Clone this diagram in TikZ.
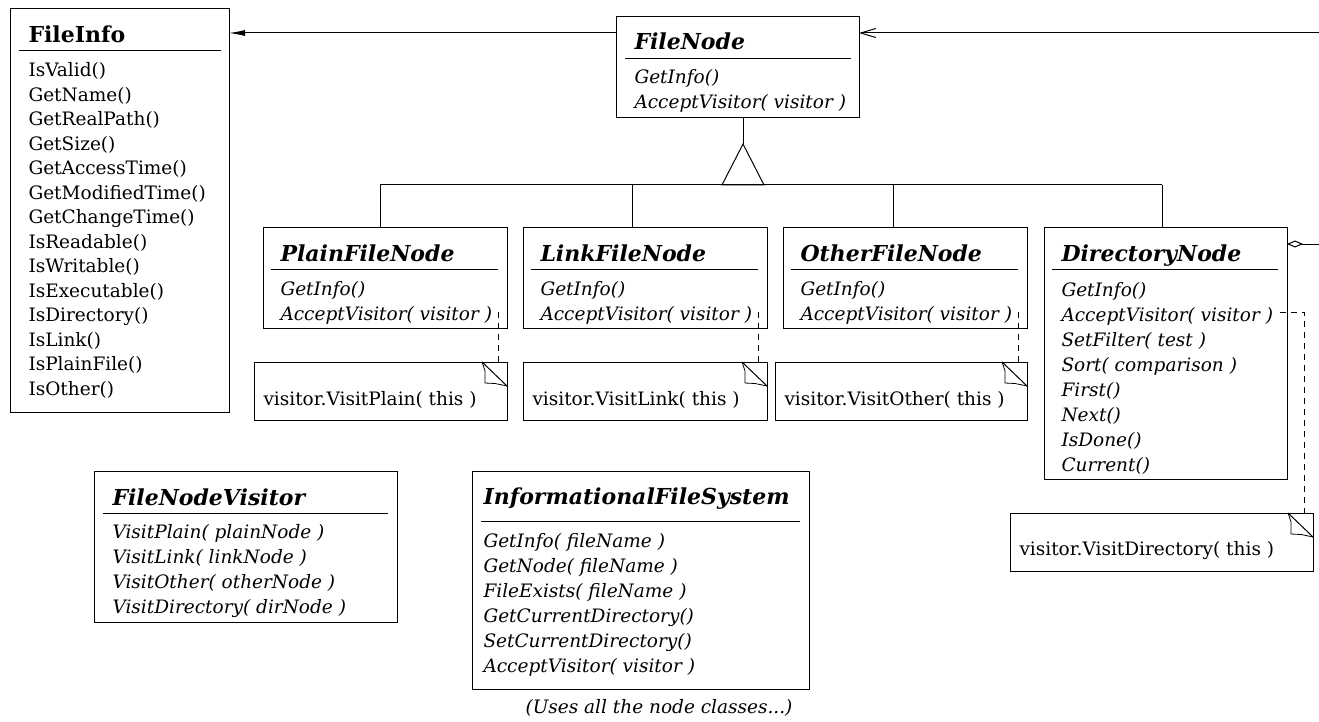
\documentclass[tikz,border=0pt]{standalone}
\usepackage{fontspec}
\setmainfont{DejaVu Serif}
\usepackage{tikz}
\usetikzlibrary{arrows.meta, calc, positioning}
\newcommand{\umlfont}{\fontsize{18.5}{25}\selectfont}
\newcommand{\infofont}{\fontsize{18.5}{24.5}\selectfont}
\newcommand{\headfont}{\fontsize{22}{26}\selectfont}

\begin{document}
\begin{tikzpicture}[
    x=1pt, y=-1pt,
    line width=1pt,
    classbox/.style={draw, anchor=north west, inner sep=0pt, outer sep=0pt},
    ctitle/.style={anchor=base west, inner sep=0pt, font=\headfont\bfseries\itshape},
    cbody/.style={anchor=north west, inner sep=0pt, align=left, font=\umlfont\itshape},
    notebox/.style={draw, anchor=north west, inner sep=0pt, outer sep=0pt,
        minimum height=58pt},
    notetext/.style={anchor=base west, inner sep=0pt, font=\umlfont},
    assoc/.style={-{Latex[length=16pt,width=6pt]}},
    navarrow/.style={-{Straight Barb[length=15pt,width=9pt]}},
    aggr/.style={-{Diamond[open,length=16pt,width=7pt]}},
    dashline/.style={dashed, dash pattern=on 6pt off 5pt}
]
\useasboundingbox (0,0) rectangle (1319,722);

% === FILEINFO ===
\node[classbox, minimum width=219pt, minimum height=403pt] (info) at (10,9) {};
\node[ctitle, font=\headfont\bfseries] (info-title) at ($(info.north west)+(18,34)$) {FileInfo};
\draw ($(info.north west)+(9,42)$) -- ($(info.north east)+(-8,42)$);
\node[cbody, font=\infofont] (info-ops) at ($(info.north west)+(18,50)$) {\strut IsValid()\\
    GetName()\\ GetRealPath()\\ GetSize()\\ GetAccessTime()\\ GetModifiedTime()\\
    GetChangeTime()\\ IsReadable()\\ IsWritable()\\ IsExecutable()\\ IsDirectory()\\
    IsLink()\\ IsPlainFile()\\ IsOther()};

% === FILENODE ===
\node[classbox, minimum width=243pt, minimum height=101pt] (fnode) at (616,17) {};
\node[ctitle] (fnode-title) at ($(fnode.north west)+(18,33)$) {FileNode};
\draw ($(fnode.north west)+(9,42)$) -- ($(fnode.north east)+(-8,42)$);
\node[cbody] (fnode-ops) at ($(fnode.north west)+(18,49)$) {\strut GetInfo()\\ AcceptVisitor( visitor )};

% === SUBCLASSES ===
\node[classbox, minimum width=244pt, minimum height=101pt] (plain) at (263,227) {};
\node[ctitle] (plain-title) at ($(plain.north west)+(17,34)$) {PlainFileNode};
\draw ($(plain.north west)+(8,42)$) -- ($(plain.north east)+(-9,42)$);
\node[cbody] (plain-ops) at ($(plain.north west)+(17,50)$) {\strut GetInfo()\\ AcceptVisitor( visitor )};

\node[classbox, minimum width=244pt, minimum height=101pt] (link) at (523,227) {};
\node[ctitle] (link-title) at ($(link.north west)+(17,34)$) {LinkFileNode};
\draw ($(link.north west)+(8,42)$) -- ($(link.north east)+(-9,42)$);
\node[cbody] (link-ops) at ($(link.north west)+(17,50)$) {\strut GetInfo()\\ AcceptVisitor( visitor )};

\node[classbox, minimum width=244pt, minimum height=101pt] (other) at (783,227) {};
\node[ctitle] (other-title) at ($(other.north west)+(17,34)$) {OtherFileNode};
\draw ($(other.north west)+(8,42)$) -- ($(other.north east)+(-9,42)$);
\node[cbody] (other-ops) at ($(other.north west)+(17,50)$) {\strut GetInfo()\\ AcceptVisitor( visitor )};

\node[classbox, minimum width=243pt, minimum height=252pt] (dir) at (1044,227) {};
\node[ctitle] (dir-title) at ($(dir.north west)+(17,34)$) {DirectoryNode};
\draw ($(dir.north west)+(8,42)$) -- ($(dir.north east)+(-9,42)$);
\node[cbody] (dir-ops) at ($(dir.north west)+(17,51)$) {\strut GetInfo()\\ AcceptVisitor( visitor )\\
    SetFilter( test )\\ Sort( comparison )\\ First()\\ Next()\\ IsDone()\\ Current()};

% === NOTES ===
\node[notebox, minimum width=253pt] (plainnote) at (254,362) {};
\node[notetext] at ($(plainnote.north west)+(9,43)$) {visitor.VisitPlain( this )};
\node[notebox, minimum width=244pt] (linknote) at (523,362) {};
\node[notetext] at ($(linknote.north west)+(9,43)$) {visitor.VisitLink( this )};
\node[notebox, minimum width=252pt] (othernote) at (775,362) {};
\node[notetext] at ($(othernote.north west)+(9,43)$) {visitor.VisitOther( this )};
\node[notebox, minimum width=303pt] (dirnote) at (1010,513) {};
\node[notetext] at ($(dirnote.north west)+(9,42)$) {visitor.VisitDirectory( this )};

\foreach \n in {plainnote, linknote, othernote, dirnote} {
    \draw ($(\n.north east)+(-25,0)$) -- ($(\n.north east)+(0,24)$);
    \draw[line width=0.8pt] ($(\n.north east)+(-25,0)$) -- ($(\n.north east)+(-22,9)$)
        -- ($(\n.north east)+(-22,21)$) -- ($(\n.north east)+(-12,21.5)$) -- ($(\n.north east)+(0,24)$);
}

% === VISITOR / FILESYSTEM ===
\node[classbox, minimum width=303pt, minimum height=151pt] (visitor) at (94,471) {};
\node[ctitle] (visitor-title) at ($(visitor.north west)+(18,34)$) {FileNodeVisitor};
\draw ($(visitor.north west)+(9,42)$) -- ($(visitor.north east)+(-9,42)$);
\node[cbody] (visitor-ops) at ($(visitor.north west)+(18,49)$) {\strut VisitPlain( plainNode )\\
    VisitLink( linkNode )\\ VisitOther( otherNode )\\ VisitDirectory( dirNode )};

\node[classbox, minimum width=337pt, minimum height=218pt] (ifs) at (472,471) {};
\node[ctitle] (ifs-title) at ($(ifs.north west)+(11,33)$) {InformationalFileSystem};
\draw ($(ifs.north west)+(9,50)$) -- ($(ifs.north east)+(-9,50)$);
\node[cbody] (ifs-ops) at ($(ifs.north west)+(11,58)$) {\strut GetInfo( fileName )\\
    GetNode( fileName )\\ FileExists( fileName )\\ GetCurrentDirectory()\\
    SetCurrentDirectory()\\ AcceptVisitor( visitor )};
\node[font=\umlfont\itshape, anchor=base] (ifs-note) at (659,713) {(Uses all the node classes...)};

% Inheritance
\coordinate (apex) at (743,144);
\draw (apex |- fnode.south) -- (apex);
\draw (apex) -- ($(apex)+(-21,41)$) -- ($(apex)+(21,41)$) -- cycle;
\foreach \c/\x in {plain/380, link/632, other/893, dir/1162} {
    \coordinate (drop-\c) at (\x,185);
    \draw (drop-\c) -- (drop-\c |- \c.north);
}
\draw (drop-plain) -- (drop-dir);

% Associations
\coordinate (rim-top) at (1319,33);
\coordinate (rim-dir) at (1319,244);
\draw[assoc] ($(fnode.north west)+(0,16)$) -- ($(info.north east)+(0,24)$);
\draw[navarrow] (rim-top) -- ($(fnode.north east)+(0,16)$);
\draw[aggr] (rim-dir) -- ($(dir.north east)+(0,17)$);

% Notes to operations
\foreach \c/\n in {plain/plainnote, link/linknote, other/othernote} {
    \coordinate (\c-end) at ($(\c.north east)+(-9,85)$);
    \draw[dashline] (\c-end) -- (\c-end |- \n.north);
}
\coordinate (dir-end) at ($(dir.north east)+(-7,85)$);
\draw[dashline] (dir-end) -| ($(dirnote.north east)+(-9,0)$);

\end{tikzpicture}
\end{document}
